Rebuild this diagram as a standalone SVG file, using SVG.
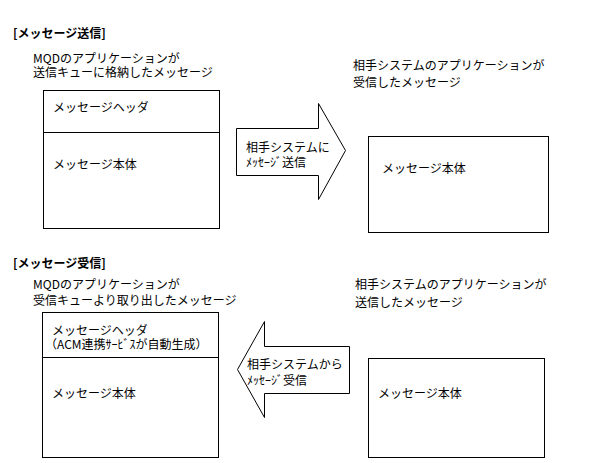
<svg xmlns="http://www.w3.org/2000/svg" width="589" height="463" viewBox="0 0 589 463">
<style>
text{font-family:"Noto Sans CJK JP","Liberation Sans",sans-serif;font-size:12px;fill:#000}
.t{font-weight:bold}
.b{fill:#fff;stroke:#000;stroke-width:1}
.l{stroke:#000;stroke-width:1;fill:none}
</style>
<rect width="589" height="463" fill="#fff"/>
<g id="send-title"><text class="t" x="13" y="37.5">[メッセージ送信]</text></g>
<g id="send-mqd-label"><text x="33" y="63">MQDのアプリケーションが</text><text x="33" y="77">送信キューに格納したメッセージ</text></g>
<g id="send-mqd-msg">
<rect class="b" x="43.5" y="90.5" width="176" height="138"/>
<line class="l" x1="43.5" y1="132.5" x2="219.5" y2="132.5"/>
<text x="53" y="111.5">メッセージヘッダ</text>
<text x="53" y="168.5">メッセージ本体</text>
</g>
<g id="send-remote-label"><text x="353" y="69.5">相手システムのアプリケーションが</text><text x="353" y="86.5">受信したメッセージ</text></g>
<g id="send-remote-msg">
<rect class="b" x="368.5" y="136.5" width="180" height="96"/>
<text x="382" y="172.5">メッセージ本体</text>
</g>
<g id="recv-title"><text class="t" x="13" y="267.5">[メッセージ受信]</text></g>
<g id="recv-mqd-label"><text x="33" y="288.5">MQDのアプリケーションが</text><text x="33" y="304.5">受信キューより取り出したメッセージ</text></g>
<g id="recv-mqd-msg">
<rect class="b" x="42.5" y="312.5" width="176" height="145"/>
<line class="l" x1="42.5" y1="357.5" x2="218.5" y2="357.5"/>
<text x="52" y="334.5">メッセージヘッダ</text>
<text x="45" y="348.5">（ACM連携ｻｰﾋﾞｽが自動生成）</text>
<text x="52" y="397.5">メッセージ本体</text>
</g>
<g id="recv-remote-label"><text x="355" y="288.5">相手システムのアプリケーションが</text><text x="355" y="306.5">送信したメッセージ</text></g>
<g id="recv-remote-msg">
<rect class="b" x="368.5" y="358.5" width="176" height="99"/>
<text x="378" y="397.5">メッセージ本体</text>
</g>
<g id="connectors">
<g id="send-arrow">
<polygon class="b" points="236.5,128.5 318.5,128.5 318.5,103.5 345.5,150.5 318.5,199.5 318.5,175.5 236.5,175.5"/>
<text x="246" y="151.5">相手システムに</text>
<text x="246" y="166.5">ﾒｯｾｰｼﾞ送信</text>
</g>
<g id="recv-arrow">
<polygon class="b" points="237.5,369.5 264.5,321.5 264.5,346.5 349.5,346.5 349.5,393.5 264.5,393.5 264.5,417.5"/>
<text x="247" y="368.5">相手システムから</text>
<text x="247" y="384.5">ﾒｯｾｰｼﾞ受信</text>
</g>
</g>
</svg>
